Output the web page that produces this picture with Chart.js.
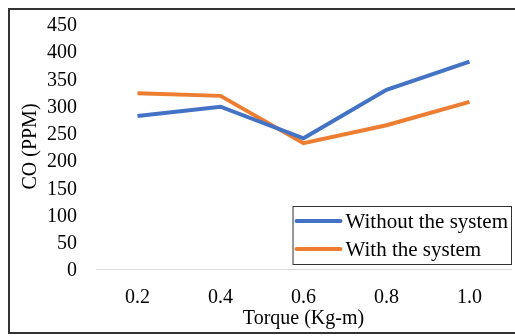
<!DOCTYPE html>
<html>
<head>
<meta charset="utf-8">
<script src="https://cdn.jsdelivr.net/npm/chart.js@4/dist/chart.umd.min.js"></script>
<style>
  html, body { margin: 0; padding: 0; background: #fff; }
  #wrap { position: relative; width: 515px; height: 336px; overflow: hidden; }
  #frame { position: absolute; left: 8px; top: 8px; width: 520px; height: 326px; border: 2px solid #333; box-sizing: border-box; pointer-events: none; }
  canvas { position: absolute; left: 0; top: 0; }
</style>
</head>
<body>
<div id="wrap">
  <canvas id="coChart" width="515" height="336"></canvas>
  <div id="frame"></div>
</div>
<script>
var torque = ['0.2', '0.4', '0.6', '0.8', '1.0'];
var withoutSystem = [281, 298, 240, 329, 381];
var withSystem = [323, 318, 231, 264, 307];
var seriesNames = ['Without the system', 'With the system'];
var seriesColors = ['#4472C4', '#ED7D31'];

var serif = "'Liberation Serif', 'DejaVu Serif', serif";

// legend drawn inside the plot, bottom right, with a thin box round it
var boxLegend = {
  id: 'boxLegend',
  afterDraw: function(chart){
    var ctx = chart.ctx;
    var area = chart.chartArea;
    var sets = chart.data.datasets;
    ctx.save();
    ctx.font = '21px ' + serif;
    var textW = 0;
    for(var i = 0; i < sets.length; i++){
      textW = Math.max(textW, ctx.measureText(sets[i].label).width);
    }
    var rowH = 28;
    var w = 4 + 44 + 5 + textW + 4;
    var h = rowH * sets.length + 3;
    var x = area.right + 1 - w;
    var y = area.bottom - 4 - h;
    ctx.fillStyle = '#fff';
    ctx.fillRect(x, y, w, h);
    ctx.strokeStyle = '#333';
    ctx.lineWidth = 1;
    ctx.strokeRect(x + 0.5, y + 0.5, w - 1, h - 1);
    for(var i = 0; i < sets.length; i++){
      var cy = y + 15 + i * rowH;
      ctx.strokeStyle = sets[i].borderColor;
      ctx.lineWidth = 4;
      ctx.lineCap = 'round';
      ctx.beginPath();
      ctx.moveTo(x + 4, cy);
      ctx.lineTo(x + 48, cy);
      ctx.stroke();
      ctx.fillStyle = '#000';
      ctx.textBaseline = 'middle';
      ctx.fillText(sets[i].label, x + 53, cy + 1);
    }
    ctx.restore();
  }
};

new Chart(document.getElementById('coChart'), {
  type: 'line',
  data: {
    labels: torque,
    datasets: [
      {
        label: seriesNames[0],
        data: withoutSystem,
        borderColor: seriesColors[0],
        backgroundColor: seriesColors[0],
        borderWidth: 4,
        pointRadius: 0,
        tension: 0
      },
      {
        label: seriesNames[1],
        data: withSystem,
        borderColor: seriesColors[1],
        backgroundColor: seriesColors[1],
        borderWidth: 4,
        pointRadius: 0,
        tension: 0
      }
    ]
  },
  options: {
    responsive: false,
    animation: false,
    layout: { padding: { left: 19, top: 24, right: 4, bottom: 5 } },
    plugins: {
      legend: { display: false },
      tooltip: { enabled: false }
    },
    scales: {
      x: {
        offset: true,
        grid: { display: false, offset: true },
        border: { display: true, color: '#d9d9d9', width: 1 },
        ticks: { color: '#000', font: { family: serif, size: 20 }, padding: 9, maxRotation: 0 },
        title: { display: true, text: 'Torque (Kg-m)', color: '#000', font: { family: serif, size: 20 }, padding: { top: 0, bottom: 0 } },
        afterFit: function(scale){ scale.height = 62; }
      },
      y: {
        min: 0,
        max: 450,
        grid: { display: false },
        border: { display: false },
        ticks: { stepSize: 50, autoSkip: false, labelOffset: 2, color: '#000', font: { family: serif, size: 20 }, padding: 11 },
        title: { display: true, text: 'CO (PPM)', color: '#000', font: { family: serif, size: 20 }, padding: { top: 0, bottom: 0 } },
        afterFit: function(scale){ scale.width = 77; }
      }
    }
  },
  plugins: [boxLegend]
});
</script>
</body>
</html>
